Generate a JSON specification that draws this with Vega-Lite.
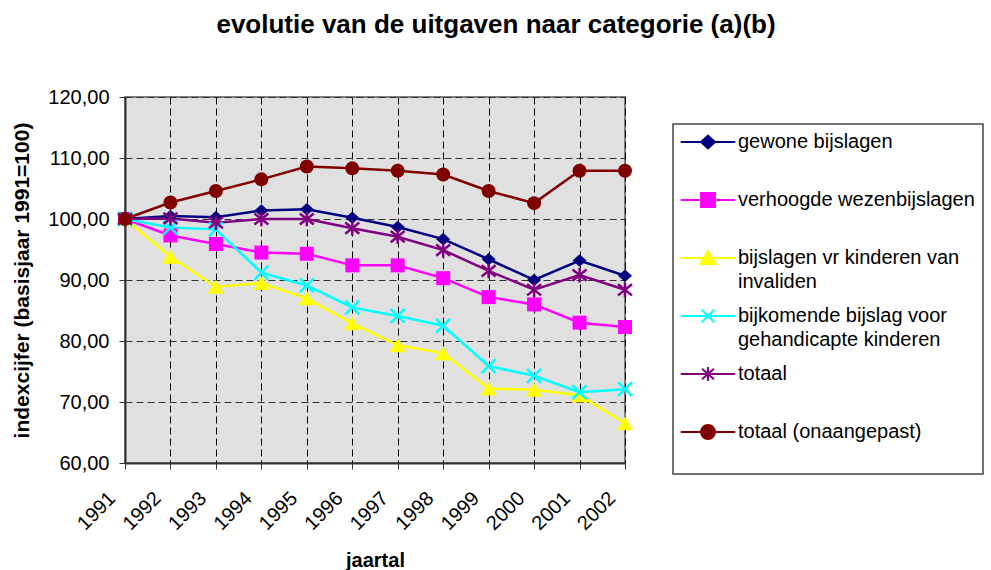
{
  "$schema": "https://vega.github.io/schema/vega-lite/v6.json",
  "autosize": {"type": "none"},
  "width": 500,
  "height": 366,
  "padding": {"left": 125, "top": 97, "right": 366, "bottom": 107},
  "background": "white",
  "title": {
    "text": "evolutie van de uitgaven naar categorie (a)(b)",
    "font": "Liberation Sans",
    "fontSize": 26,
    "fontWeight": "bold",
    "color": "black",
    "anchor": "middle",
    "dx": 121,
    "baseline": "alphabetic",
    "offset": 28
  },
  "config": {
    "view": {"fill": "#e0e0e0", "stroke": "#808080", "strokeWidth": 2},
    "axis": {"labelFont": "Liberation Sans", "titleFont": "Liberation Sans", "labelColor": "black", "titleColor": "black"},
    "legend": {"labelFont": "Liberation Sans"}
  },
  "data": {
    "values": [
      {"jaar": "1991", "reeks": "gewone bijslagen", "index": 100.0},
      {"jaar": "1992", "reeks": "gewone bijslagen", "index": 100.5},
      {"jaar": "1993", "reeks": "gewone bijslagen", "index": 100.3},
      {"jaar": "1994", "reeks": "gewone bijslagen", "index": 101.4},
      {"jaar": "1995", "reeks": "gewone bijslagen", "index": 101.6},
      {"jaar": "1996", "reeks": "gewone bijslagen", "index": 100.2},
      {"jaar": "1997", "reeks": "gewone bijslagen", "index": 98.7},
      {"jaar": "1998", "reeks": "gewone bijslagen", "index": 96.7},
      {"jaar": "1999", "reeks": "gewone bijslagen", "index": 93.4},
      {"jaar": "2000", "reeks": "gewone bijslagen", "index": 90.0},
      {"jaar": "2001", "reeks": "gewone bijslagen", "index": 93.2},
      {"jaar": "2002", "reeks": "gewone bijslagen", "index": 90.7},
      {"jaar": "1991", "reeks": "verhoogde wezenbijslagen", "index": 100.0},
      {"jaar": "1992", "reeks": "verhoogde wezenbijslagen", "index": 97.3},
      {"jaar": "1993", "reeks": "verhoogde wezenbijslagen", "index": 95.9},
      {"jaar": "1994", "reeks": "verhoogde wezenbijslagen", "index": 94.5},
      {"jaar": "1995", "reeks": "verhoogde wezenbijslagen", "index": 94.3},
      {"jaar": "1996", "reeks": "verhoogde wezenbijslagen", "index": 92.4},
      {"jaar": "1997", "reeks": "verhoogde wezenbijslagen", "index": 92.4},
      {"jaar": "1998", "reeks": "verhoogde wezenbijslagen", "index": 90.3},
      {"jaar": "1999", "reeks": "verhoogde wezenbijslagen", "index": 87.2},
      {"jaar": "2000", "reeks": "verhoogde wezenbijslagen", "index": 86.0},
      {"jaar": "2001", "reeks": "verhoogde wezenbijslagen", "index": 83.0},
      {"jaar": "2002", "reeks": "verhoogde wezenbijslagen", "index": 82.3},
      {"jaar": "1991", "reeks": "bijslagen vr kinderen van invaliden", "index": 100.0},
      {"jaar": "1992", "reeks": "bijslagen vr kinderen van invaliden", "index": 93.8},
      {"jaar": "1993", "reeks": "bijslagen vr kinderen van invaliden", "index": 88.9},
      {"jaar": "1994", "reeks": "bijslagen vr kinderen van invaliden", "index": 89.5},
      {"jaar": "1995", "reeks": "bijslagen vr kinderen van invaliden", "index": 87.0},
      {"jaar": "1996", "reeks": "bijslagen vr kinderen van invaliden", "index": 82.9},
      {"jaar": "1997", "reeks": "bijslagen vr kinderen van invaliden", "index": 79.3},
      {"jaar": "1998", "reeks": "bijslagen vr kinderen van invaliden", "index": 78.0},
      {"jaar": "1999", "reeks": "bijslagen vr kinderen van invaliden", "index": 72.2},
      {"jaar": "2000", "reeks": "bijslagen vr kinderen van invaliden", "index": 72.0},
      {"jaar": "2001", "reeks": "bijslagen vr kinderen van invaliden", "index": 71.1},
      {"jaar": "2002", "reeks": "bijslagen vr kinderen van invaliden", "index": 66.5},
      {"jaar": "1991", "reeks": "bijkomende bijslag voor gehandicapte kinderen", "index": 100.0},
      {"jaar": "1992", "reeks": "bijkomende bijslag voor gehandicapte kinderen", "index": 98.6},
      {"jaar": "1993", "reeks": "bijkomende bijslag voor gehandicapte kinderen", "index": 98.3},
      {"jaar": "1994", "reeks": "bijkomende bijslag voor gehandicapte kinderen", "index": 91.2},
      {"jaar": "1995", "reeks": "bijkomende bijslag voor gehandicapte kinderen", "index": 89.1},
      {"jaar": "1996", "reeks": "bijkomende bijslag voor gehandicapte kinderen", "index": 85.5},
      {"jaar": "1997", "reeks": "bijkomende bijslag voor gehandicapte kinderen", "index": 84.1},
      {"jaar": "1998", "reeks": "bijkomende bijslag voor gehandicapte kinderen", "index": 82.5},
      {"jaar": "1999", "reeks": "bijkomende bijslag voor gehandicapte kinderen", "index": 75.9},
      {"jaar": "2000", "reeks": "bijkomende bijslag voor gehandicapte kinderen", "index": 74.3},
      {"jaar": "2001", "reeks": "bijkomende bijslag voor gehandicapte kinderen", "index": 71.6},
      {"jaar": "2002", "reeks": "bijkomende bijslag voor gehandicapte kinderen", "index": 72.1},
      {"jaar": "1991", "reeks": "totaal", "index": 100.0},
      {"jaar": "1992", "reeks": "totaal", "index": 100.1},
      {"jaar": "1993", "reeks": "totaal", "index": 99.4},
      {"jaar": "1994", "reeks": "totaal", "index": 100.0},
      {"jaar": "1995", "reeks": "totaal", "index": 100.0},
      {"jaar": "1996", "reeks": "totaal", "index": 98.5},
      {"jaar": "1997", "reeks": "totaal", "index": 97.1},
      {"jaar": "1998", "reeks": "totaal", "index": 94.9},
      {"jaar": "1999", "reeks": "totaal", "index": 91.5},
      {"jaar": "2000", "reeks": "totaal", "index": 88.4},
      {"jaar": "2001", "reeks": "totaal", "index": 90.8},
      {"jaar": "2002", "reeks": "totaal", "index": 88.4},
      {"jaar": "1991", "reeks": "totaal (onaangepast)", "index": 100.0},
      {"jaar": "1992", "reeks": "totaal (onaangepast)", "index": 102.7},
      {"jaar": "1993", "reeks": "totaal (onaangepast)", "index": 104.6},
      {"jaar": "1994", "reeks": "totaal (onaangepast)", "index": 106.5},
      {"jaar": "1995", "reeks": "totaal (onaangepast)", "index": 108.6},
      {"jaar": "1996", "reeks": "totaal (onaangepast)", "index": 108.3},
      {"jaar": "1997", "reeks": "totaal (onaangepast)", "index": 107.9},
      {"jaar": "1998", "reeks": "totaal (onaangepast)", "index": 107.3},
      {"jaar": "1999", "reeks": "totaal (onaangepast)", "index": 104.6},
      {"jaar": "2000", "reeks": "totaal (onaangepast)", "index": 102.6},
      {"jaar": "2001", "reeks": "totaal (onaangepast)", "index": 107.9},
      {"jaar": "2002", "reeks": "totaal (onaangepast)", "index": 107.9}
    ]
  },
  "encoding": {
    "x": {
      "field": "jaar",
      "type": "ordinal",
      "sort": null,
      "scale": {"type": "point", "padding": 0},
      "axis": {
        "title": "jaartal",
        "titleFontSize": 20,
        "titleFontWeight": "bold",
        "titlePadding": 17,
        "labelFontSize": 20,
        "labelAngle": -45,
        "labelAlign": "right",
        "labelBaseline": "middle",
        "labelPadding": 26,
        "labelOffset": -13,
        "tickSize": 6,
        "tickColor": "#333333",
        "domainColor": "#333333",
        "domainWidth": 2,
        "grid": true,
        "gridColor": "#000000",
        "gridDash": [7, 4],
        "gridWidth": 1
      }
    },
    "y": {
      "field": "index",
      "type": "quantitative",
      "scale": {"domain": [60, 120], "nice": false, "zero": false},
      "axis": {
        "title": "indexcijfer (basisjaar 1991=100)",
        "titleFontSize": 21,
        "titleFontWeight": "bold",
        "titlePadding": 15,
        "values": [60, 70, 80, 90, 100, 110, 120],
        "labelExpr": "replace(format(datum.value, '.2f'), '.', ',')",
        "labelFontSize": 20,
        "labelPadding": 10,
        "tickSize": 6,
        "tickColor": "#333333",
        "domainColor": "#333333",
        "domainWidth": 2,
        "grid": true,
        "gridColor": "#333333",
        "gridDash": [7, 4],
        "gridWidth": 1
      }
    },
    "color": {
      "field": "reeks",
      "type": "nominal",
      "sort": null,
      "scale": {
        "domain": ["gewone bijslagen", "verhoogde wezenbijslagen", "bijslagen vr kinderen van invaliden", "bijkomende bijslag voor gehandicapte kinderen", "totaal", "totaal (onaangepast)"],
        "range": ["#000080", "#ff00ff", "#ffff00", "#00ffff", "#800080", "#800000"]
      },
      "legend": {
        "title": null,
        "orient": "none",
        "legendX": 548,
        "legendY": 27,
        "padding": 8,
        "strokeColor": "#444444",
        "fillColor": "white",
        "symbolType": "circle",
        "symbolSize": 196,
        "symbolStrokeWidth": 2,
        "symbolOffset": 17,
        "labelFontSize": 20,
        "labelColor": "black",
        "labelLimit": 500,
        "labelOffset": 20,
        "labelBaseline": "alphabetic",
        "rowPadding": 13,
        "labelExpr": "datum.label == 'bijslagen vr kinderen van invaliden' ? ['bijslagen vr kinderen van', 'invaliden'] : datum.label == 'bijkomende bijslag voor gehandicapte kinderen' ? ['bijkomende bijslag voor', 'gehandicapte kinderen'] : [datum.label, '']",
        "encode": {
          "legend": {"update": {"strokeWidth": {"value": 1.5}}},
          "labels": {"update": {"dy": {"value": 6}, "lineHeight": {"value": 24}}},
          "symbols": {
            "update": {
              "shape": {"signal": "datum.value == 'gewone bijslagen' ? 'M-3.9,0L3.9,0M0,-0.9L1,0L0,0.9L-1,0Z' : datum.value == 'verhoogde wezenbijslagen' ? 'M-3.9,0L3.9,0M-1,-1L1,-1L1,1L-1,1Z' : datum.value == 'bijslagen vr kinderen van invaliden' ? 'M-3.9,0L3.9,0M0,-0.95L1.1,0.85L-1.1,0.85Z' : datum.value == 'bijkomende bijslag voor gehandicapte kinderen' ? 'M-3.9,0L3.9,0M-0.9,-0.9L0.9,0.9M-0.9,0.9L0.9,-0.9' : datum.value == 'totaal' ? 'M-3.9,0L3.9,0M0,-1L0,1M-0.85,-0.75L0.85,0.75M-0.85,0.75L0.85,-0.75' : 'M-3.9,0L3.9,0M-1,0A1,1 0 1,0 1,0A1,1 0 1,0 -1,0Z'"},
              "fill": {"scale": "color", "field": "value"},
              "stroke": {"scale": "color", "field": "value"},
              "strokeWidth": {"value": 2},
              "opacity": {"value": 1}
            }
          }
        }
      }
    }
  },
  "layer": [
    {"mark": {"type": "line", "strokeWidth": 2.5}, "encoding": {}},
    {
      "transform": [{"filter": "datum.reeks == 'gewone bijslagen'"}],
      "mark": {"type": "point", "filled": true, "opacity": 1, "size": 196, "shape": "M0,-0.9L1,0L0,0.9L-1,0Z"},
      "encoding": {}
    },
    {
      "transform": [{"filter": "datum.reeks == 'verhoogde wezenbijslagen'"}],
      "mark": {"type": "point", "filled": true, "opacity": 1, "size": 196, "shape": "square"},
      "encoding": {}
    },
    {
      "transform": [{"filter": "datum.reeks == 'bijslagen vr kinderen van invaliden'"}],
      "mark": {"type": "point", "filled": true, "opacity": 1, "size": 196, "shape": "M0,-1L1.15,1L-1.15,1Z"},
      "encoding": {}
    },
    {
      "transform": [{"filter": "datum.reeks == 'bijkomende bijslag voor gehandicapte kinderen'"}],
      "mark": {"type": "point", "filled": false, "opacity": 1, "size": 196, "strokeWidth": 2.5, "shape": "M-1,-1L1,1M-1,1L1,-1"},
      "encoding": {}
    },
    {
      "transform": [{"filter": "datum.reeks == 'totaal'"}],
      "mark": {"type": "point", "filled": false, "opacity": 1, "size": 196, "strokeWidth": 2.5, "shape": "M0,-1.05L0,1.05M-1,-0.8L1,0.8M-1,0.8L1,-0.8"},
      "encoding": {}
    },
    {
      "transform": [{"filter": "datum.reeks == 'totaal (onaangepast)'"}],
      "mark": {"type": "point", "filled": true, "opacity": 1, "size": 196, "shape": "circle"},
      "encoding": {}
    }
  ]
}
